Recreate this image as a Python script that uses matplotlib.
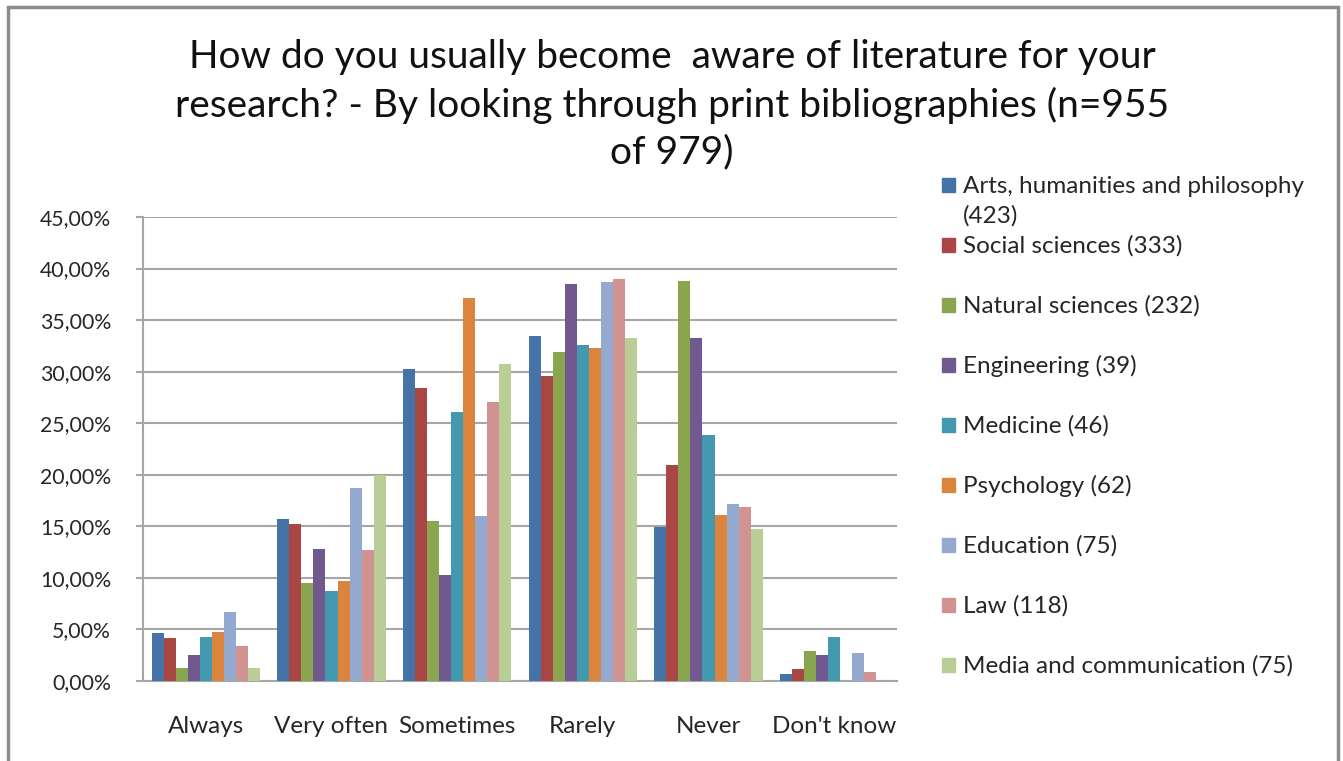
import matplotlib
matplotlib.use("Agg")
import matplotlib.pyplot as plt
import numpy as np
from matplotlib.patches import Rectangle

plt.rcParams['font.family'] = ['Lato', 'DejaVu Sans']

categories = ['Always', 'Very often', 'Sometimes', 'Rarely', 'Never', "Don't know"]
series_names = ['Arts, humanities and philosophy\n(423)', 'Social sciences (333)',
                'Natural sciences (232)', 'Engineering (39)', 'Medicine (46)',
                'Psychology (62)', 'Education (75)', 'Law (118)',
                'Media and communication (75)']
colors = ['#4572A7', '#AA4643', '#89A54E', '#71588F', '#4198AF',
          '#DB843D', '#93A9CF', '#D19392', '#B9CD96']

# percent per category, one list per group of respondents
arts = [4.65, 15.7, 30.3, 33.5, 14.9, 0.65]
social = [4.15, 15.2, 28.4, 29.6, 20.9, 1.15]
natural = [1.3, 9.5, 15.5, 31.9, 38.8, 2.9]
engineering = [2.55, 12.8, 10.3, 38.5, 33.3, 2.55]
medicine = [4.3, 8.7, 26.1, 32.6, 23.9, 4.3]
psychology = [4.8, 9.7, 37.1, 32.3, 16.1, 0.0]
education = [6.7, 18.7, 16.0, 38.7, 17.2, 2.7]
law = [3.4, 12.7, 27.1, 39.0, 16.9, 0.85]
media = [1.3, 20.0, 30.7, 33.3, 14.7, 0.0]
values = [arts, social, natural, engineering, medicine, psychology, education, law, media]

W, H = 1343, 761
fig = plt.figure(figsize=(W / 100, H / 100), dpi=100)
ax = fig.add_axes([143 / W, 1 - 681 / H, (897 - 143) / W, (681 - 217) / H])

x = np.arange(len(categories))
bw = 0.86 / len(values)
for i, (vals, c) in enumerate(zip(values, colors)):
    ax.bar(x - 0.43 + bw * (i + 0.5), vals, width=bw, color=c, zorder=3)

ax.set_xlim(-0.5, len(categories) - 0.5)
ax.set_ylim(0, 45)
yt = np.arange(0, 46, 5)
ax.set_yticks(yt)
ax.set_yticklabels([('%.2f' % v).replace('.', ',') + '%' for v in yt])
ax.set_xticks(x)
ax.set_xticklabels(categories)
ax.yaxis.grid(True, color='#A6A6A6', linewidth=1.5, zorder=0)
for s in ['top', 'right']:
    ax.spines[s].set_visible(False)
for s in ['left', 'bottom']:
    ax.spines[s].set_color('#A6A6A6')
    ax.spines[s].set_linewidth(1.5)
ax.tick_params(axis='y', length=5, color='#A6A6A6', width=1.5, labelsize=15.3, pad=18,
               labelcolor='#262626')
ax.tick_params(axis='x', length=0, labelsize=17.5, pad=25, labelcolor='#262626')

fig.text(672 / W, 1 - 105 / H,
         'How do you usually become  aware of literature for your\n'
         'research? - By looking through print bibliographies (n=955\n'
         'of 979)',
         ha='center', va='center', fontsize=28, linespacing=1.37, color='#111111')

# legend drawn in figure pixels
ys = [185, 245, 305, 365, 425, 485, 545, 605, 665]
for name, c, y in zip(series_names, colors, ys):
    fig.patches.append(Rectangle((942 / W, 1 - (y + 7) / H), 13 / W, 14 / H,
                                 transform=fig.transFigure, color=c))
    for k, line in enumerate(name.split('\n')):
        fig.text(963 / W, 1 - (y + 8 + 30 * k) / H, line, ha='left', va='baseline',
                 fontsize=17.5, color='#262626')

fig.patches.append(Rectangle((8 / W, -0.05), 1330 / W, 1.05 - 7 / H, transform=fig.transFigure,
                             fill=False, edgecolor='#8C8C8C', linewidth=2.5))

fig.savefig('out.png', dpi=100, facecolor='white')
